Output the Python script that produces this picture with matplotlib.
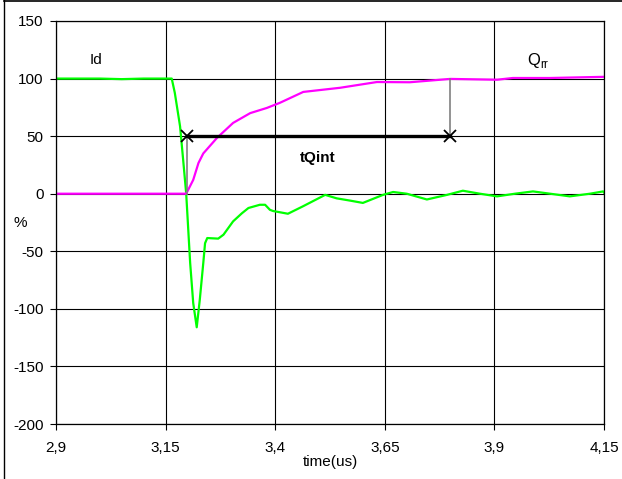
import matplotlib
matplotlib.use("Agg")
import matplotlib.pyplot as plt
from matplotlib.lines import Line2D

plt.rcParams['font.family'] = ['Liberation Sans', 'DejaVu Sans']

# Id (green) trace
id_t = [2.9, 2.95, 3.0, 3.05, 3.1, 3.164, 3.171, 3.183, 3.190, 3.197, 3.206, 3.213,
        3.221, 3.228, 3.236, 3.240, 3.245, 3.270, 3.282, 3.304, 3.324, 3.339, 3.365,
        3.377, 3.388, 3.395, 3.429, 3.463, 3.514, 3.540, 3.571, 3.600, 3.646, 3.669,
        3.700, 3.746, 3.792, 3.828, 3.867, 3.906, 3.947, 3.988, 4.027, 4.072, 4.118,
        4.148, 4.15]
id_v = [100, 100, 100, 99.5, 100, 100, 87.6, 58.5, 29.6, 0, -60, -95,
        -116, -92, -60, -43, -38.5, -39, -35.6, -24, -17, -12.4, -9.6,
        -9.6, -14, -15, -17.4, -11, -1, -4, -6, -8, -1, 1.5,
        0, -5, -1, 2.6, 0, -2.3, 0, 2, 0, -2.3, 0,
        2, 1]

# Qrr (magenta) trace
q_t = [2.9, 3.197, 3.213, 3.225, 3.236, 3.267, 3.304, 3.343, 3.381, 3.411, 3.464,
       3.548, 3.632, 3.707, 3.799, 3.906, 3.942, 4.027, 4.148, 4.15]
q_v = [0, 0, 12, 26.7, 35, 48.4, 61.5, 70, 74.5, 79, 88.4,
       92, 97, 96.8, 99.7, 99, 100.5, 100.5, 101.5, 101.5]

# tQint marker
tq_start, tq_end, tq_level = 3.198, 3.799, 50

x_ticks = [2.9, 3.15, 3.4, 3.65, 3.9, 4.15]
x_labels = ['2,9', '3,15', '3,4', '3,65', '3,9', '4,15']
y_ticks = [-200, -150, -100, -50, 0, 50, 100, 150]

FS = 11

fig = plt.figure(figsize=(6.22, 4.79), dpi=100)
ax = fig.add_axes([56/622, 1-424/479, 548/622, 403/479])

ax.set_xlim(2.9, 4.15)
ax.set_ylim(-200, 150)
ax.set_xticks(x_ticks)
ax.set_xticklabels(x_labels)
ax.set_yticks(y_ticks)
ax.set_yticklabels([str(v) for v in y_ticks])
ax.grid(True, color='black', lw=0.8)
ax.set_axisbelow(True)
for s in ax.spines.values():
    s.set_color('black')
    s.set_linewidth(0.9)
ax.tick_params(direction='out', length=4, width=0.8, labelsize=FS, color='black')
ax.tick_params(axis='x', pad=8)
ax.tick_params(axis='y', pad=5)

ax.plot(id_t, id_v, color='#00ff00', lw=1.6)
ax.plot(q_t, q_v, color='#ff00ff', lw=1.6)

ax.plot([tq_start, tq_start], [0, tq_level], color='#808080', lw=1.2)
ax.plot([tq_end, tq_end], [tq_level, 100], color='#808080', lw=1.2)
ax.plot([tq_start, tq_end], [tq_level, tq_level], color='black', lw=2.4)
ax.plot([tq_start, tq_end], [tq_level, tq_level], ls='none', marker='x',
        ms=9, mew=1.3, color='black')

ax.text(2.991, 116, 'Id', fontsize=FS, ha='center', va='center')
ax.text(4.0, 116, r'Q$_{\mathregular{rr}}$', fontsize=FS + 1, ha='center', va='center')
ax.text(3.498, 31, 'tQint', fontsize=FS, fontweight='bold', ha='center', va='center')

fig.text(20/622, 1-223/479, '%', fontsize=FS, ha='center', va='center')
fig.text(330/622, 1-462/479, 'time(us)', fontsize=FS, ha='center', va='center')

# outer frame
fig.add_artist(Line2D([4/622, 4/622], [0, 1], transform=fig.transFigure, color='black', lw=1))
fig.add_artist(Line2D([4/622, 1], [1-0.8/479, 1-0.8/479], transform=fig.transFigure, color='black', lw=1.2))

fig.savefig('out.png', dpi=100)
